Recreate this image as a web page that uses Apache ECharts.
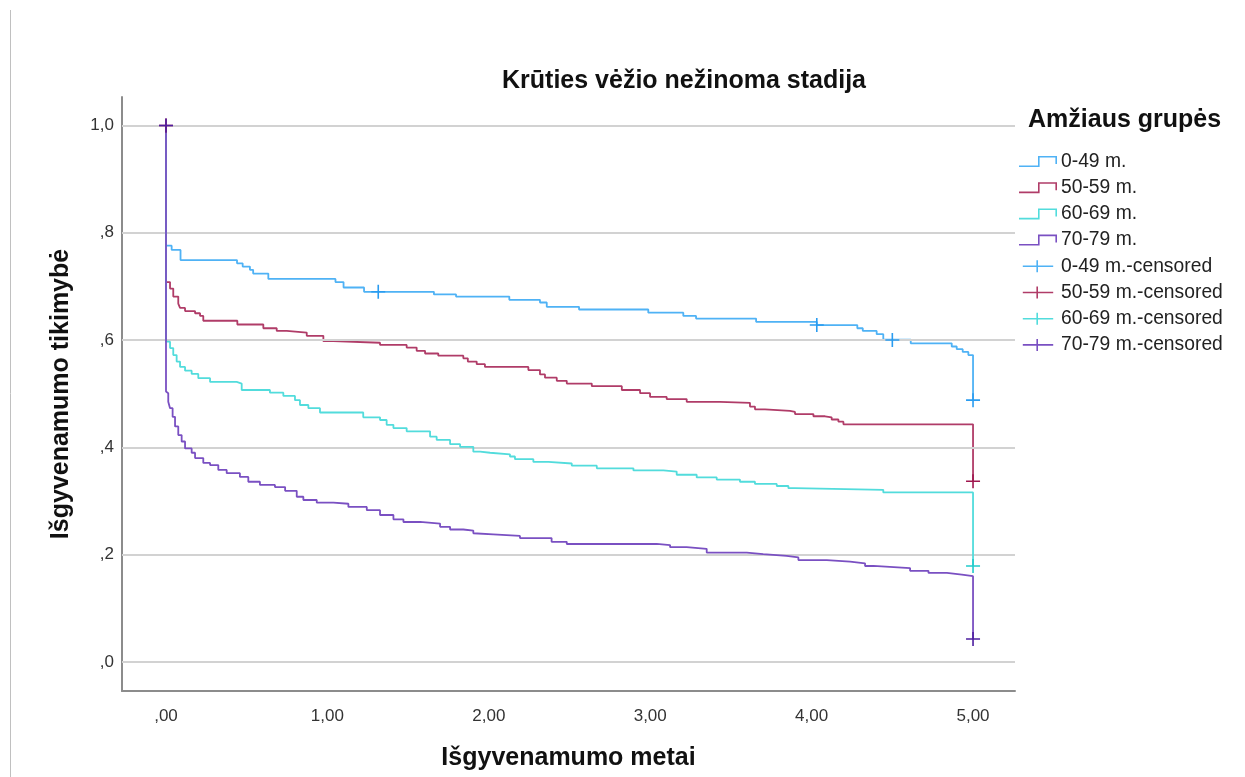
<!DOCTYPE html>
<html>
<head>
<meta charset="utf-8">
<script src="https://cdn.jsdelivr.net/npm/echarts@6/dist/echarts.min.js"></script>
<style>html,body{margin:0;padding:0;background:#fff;}#c{width:1245px;height:777px;}</style>
</head>
<body>
<div id="c"></div>
<script>
const groups = ['0-49 m.', '50-59 m.', '60-69 m.', '70-79 m.'];
const lineColors = ['#4fb2f5', '#b03c68', '#52dcdc', '#7a50c2'];
const censColors = ['#2a9cf0', '#a0174f', '#22cccc', '#4e1fa0'];

const xTickVals = [0, 1, 2, 3, 4, 5];
const xTickLabels = [',00', '1,00', '2,00', '3,00', '4,00', '5,00'];
const yTickVals = [0, 0.2, 0.4, 0.6, 0.8, 1.0];
const yTickLabels = [',0', ',2', ',4', ',6', ',8', '1,0'];

// 0-49 m.
const t049 = [0, 0, 0.035, 0.090, 0.44, 0.475, 0.52, 0.54, 0.634, 1.05, 1.10, 1.227, 1.66, 1.797, 2.127, 2.317, 2.359, 2.559, 2.988, 3.205, 3.284, 3.656, 4.032, 4.283, 4.317, 4.403, 4.444, 4.614, 4.868, 4.899, 4.936, 4.971, 5.0];
const s049 = [1.0, 0.776, 0.768, 0.749, 0.743, 0.737, 0.731, 0.724, 0.714, 0.708, 0.698, 0.690, 0.685, 0.681, 0.675, 0.670, 0.662, 0.657, 0.651, 0.645, 0.640, 0.634, 0.628, 0.622, 0.617, 0.611, 0.601, 0.594, 0.588, 0.583, 0.578, 0.572, 0.488];
// 50-59 m.
const t5059 = [0, 0, 0.025, 0.045, 0.076, 0.087, 0.118, 0.180, 0.211, 0.231, 0.442, 0.603, 0.686, 0.748, 0.872, 0.975, 1.037, 1.326, 1.491, 1.553, 1.605, 1.687, 1.842, 1.87, 1.925, 1.976, 2.245, 2.317, 2.348, 2.421, 2.483, 2.638, 2.824, 2.937, 2.999, 3.102, 3.226, 3.432, 3.618, 3.649, 3.711, 3.866, 3.897, 4.011, 4.083, 4.124, 4.166, 4.197, 5.0];
const s5059 = [1.0, 0.708, 0.696, 0.681, 0.668, 0.660, 0.654, 0.650, 0.645, 0.636, 0.629, 0.622, 0.617, 0.614, 0.608, 0.598, 0.595, 0.591, 0.586, 0.580, 0.575, 0.571, 0.566, 0.560, 0.555, 0.550, 0.544, 0.536, 0.530, 0.524, 0.519, 0.514, 0.507, 0.501, 0.494, 0.490, 0.485, 0.483, 0.476, 0.471, 0.468, 0.466, 0.462, 0.458, 0.456, 0.452, 0.448, 0.443, 0.337];
// 60-69 m.
const t6069 = [0, 0, 0.025, 0.045, 0.066, 0.087, 0.118, 0.159, 0.200, 0.273, 0.438, 0.469, 0.644, 0.727, 0.799, 0.830, 0.882, 0.954, 1.222, 1.326, 1.367, 1.409, 1.491, 1.636, 1.677, 1.760, 1.822, 1.904, 1.946, 2.008, 2.131, 2.162, 2.276, 2.369, 2.514, 2.669, 2.896, 3.082, 3.164, 3.288, 3.412, 3.556, 3.649, 3.784, 3.856, 3.897, 4.444, 5.0];
const s6069 = [1.0, 0.597, 0.585, 0.572, 0.560, 0.550, 0.543, 0.537, 0.529, 0.522, 0.519, 0.507, 0.502, 0.496, 0.488, 0.479, 0.473, 0.465, 0.456, 0.451, 0.442, 0.436, 0.430, 0.420, 0.414, 0.406, 0.401, 0.392, 0.390, 0.387, 0.383, 0.378, 0.373, 0.370, 0.366, 0.361, 0.357, 0.355, 0.349, 0.344, 0.340, 0.336, 0.332, 0.328, 0.324, 0.321, 0.316, 0.179];
// 70-79 m.
const t7079 = [0, 0, 0.008, 0.014, 0.025, 0.041, 0.056, 0.076, 0.097, 0.118, 0.159, 0.180, 0.231, 0.273, 0.324, 0.376, 0.458, 0.510, 0.582, 0.675, 0.738, 0.810, 0.851, 0.934, 1.037, 1.130, 1.244, 1.326, 1.409, 1.471, 1.574, 1.698, 1.760, 1.842, 1.904, 1.915, 2.027, 2.193, 2.389, 2.483, 3.040, 3.123, 3.226, 3.350, 3.598, 3.700, 3.845, 3.918, 4.094, 4.238, 4.331, 4.383, 4.559, 4.610, 4.724, 4.838, 4.931, 5.0];
const s7079 = [1.0, 0.504, 0.501, 0.485, 0.473, 0.457, 0.439, 0.423, 0.411, 0.398, 0.390, 0.380, 0.371, 0.367, 0.358, 0.352, 0.345, 0.336, 0.330, 0.326, 0.319, 0.308, 0.302, 0.297, 0.295, 0.289, 0.283, 0.274, 0.266, 0.261, 0.258, 0.252, 0.247, 0.245, 0.240, 0.238, 0.235, 0.231, 0.224, 0.220, 0.218, 0.214, 0.211, 0.204, 0.201, 0.198, 0.195, 0.190, 0.187, 0.184, 0.179, 0.176, 0.175, 0.170, 0.166, 0.163, 0.160, 0.043];

// censored observations
const c049T = [1.315, 4.032, 4.50, 5.0];
const c049S = [0.690, 0.628, 0.600, 0.488];
const c5059T = [0, 5.0];
const c5059S = [1.0, 0.337];
const c6069T = [5.0];
const c6069S = [0.179];
const c7079T = [0, 5.0];
const c7079S = [1.0, 0.043];

const times = [t049, t5059, t6069, t7079];
const surv = [s049, s5059, s6069, s7079];
const cT = [c049T, c5059T, c6069T, c7079T];
const cS = [c049S, c5059S, c6069S, c7079S];

const stepIcon = 'path://M0,9.4 H19 V0 H38 V8 H36.4 V1.6 H20.6 V11 H0 Z';
const crossIcon = 'path://M0,6.5 H17 V0 H19 V6.5 H38 V8.5 H19 V15 H17 V8.5 H0 Z';
const plusSym = 'path://M6.2,0 H7.8 V6.2 H14 V7.8 H7.8 V14 H6.2 V7.8 H0 V6.2 H6.2 Z';

const zip = (a, b) => a.map((v, i) => [v, b[i]]);

const series = [{
  type: 'line', data: [], silent: true, z: 1,
  markLine: {
    silent: true, symbol: ['none', 'none'], label: { show: false },
    lineStyle: { color: '#d2d2d2', width: 2, type: 'solid' },
    data: yTickVals.map(v => ({ yAxis: v }))
  }
}];
groups.forEach((g, i) => {
  series.push({
    name: g, type: 'line', step: 'end', showSymbol: false, symbol: 'none',
    data: zip(times[i], surv[i]), z: 3 + i,
    lineStyle: { color: lineColors[i], width: 1.8 },
    itemStyle: { color: lineColors[i] }
  });
});
groups.forEach((g, i) => {
  series.push({
    name: g + '-censored', type: 'scatter', symbol: plusSym, symbolSize: 14,
    data: zip(cT[i], cS[i]), z: 10 + i,
    itemStyle: { color: censColors[i], opacity: 1 }
  });
});

const legendData = groups.map((g, i) => ({ name: g, icon: stepIcon, itemStyle: { color: lineColors[i] } }))
  .concat(groups.map((g, i) => ({ name: g + '-censored', icon: crossIcon, itemStyle: { color: lineColors[i] } })));

const chart = echarts.init(document.getElementById('c'), null, { renderer: 'canvas' });
chart.setOption({
  animation: false,
  backgroundColor: '#fff',
  textStyle: { fontFamily: 'Liberation Sans, Arial, sans-serif' },
  title: {
    text: 'Krūties vėžio nežinoma stadija',
    left: 679, top: 64, textAlign: 'center',
    textStyle: { fontSize: 25, fontWeight: 'bold', color: '#111', fontFamily: 'Liberation Sans, Arial, sans-serif' }
  },
  graphic: [
    { type: 'line', shape: { x1: 10.5, y1: 10, x2: 10.5, y2: 777 }, style: { stroke: '#c0c0c0', lineWidth: 1 } },
    { type: 'text', left: 1028, top: 108, style: { text: 'Amžiaus grupės', font: 'bold 25px Liberation Sans, Arial, sans-serif', fill: '#111' } }
  ],
  legend: {
    orient: 'vertical', left: 1019, top: 152, padding: 0,
    itemWidth: 38, itemHeight: 12, itemGap: 7.2,
    textStyle: { fontSize: 19.3, color: '#222', padding: [0, 0, 0, -1] },
    data: legendData, selectedMode: false
  },
  grid: { left: 122, right: 230, top: 97, bottom: 86, containLabel: false },
  xAxis: {
    type: 'value', min: -0.2726, max: 5.26,
    name: 'Išgyvenamumo metai', nameLocation: 'middle', nameGap: 55,
    nameTextStyle: { fontSize: 25, fontWeight: 'bold', color: '#111' },
    axisLine: { show: true, onZero: false, lineStyle: { color: '#8c8c8c', width: 2 } },
    axisTick: { show: false },
    splitLine: { show: false },
    axisLabel: {
      customValues: xTickVals, margin: 17, fontSize: 17, color: '#333',
      formatter: v => { const k = xTickVals.findIndex(t => Math.abs(t - v) < 1e-6); return k >= 0 ? xTickLabels[k] : ''; }
    }
  },
  yAxis: {
    type: 'value', min: -0.054, max: 1.053,
    name: 'Išgyvenamumo tikimybė', nameLocation: 'middle', nameGap: 48,
    nameTextStyle: { fontSize: 25, fontWeight: 'bold', color: '#111' },
    axisLine: { show: true, onZero: false, lineStyle: { color: '#8c8c8c', width: 2 } },
    axisTick: { show: false },
    splitLine: { show: false },
    axisLabel: {
      customValues: yTickVals, margin: 8, fontSize: 17, color: '#333',
      formatter: v => { const k = yTickVals.findIndex(t => Math.abs(t - v) < 1e-6); return k >= 0 ? yTickLabels[k] : ''; }
    }
  },
  series: series
});
</script>
</body>
</html>
